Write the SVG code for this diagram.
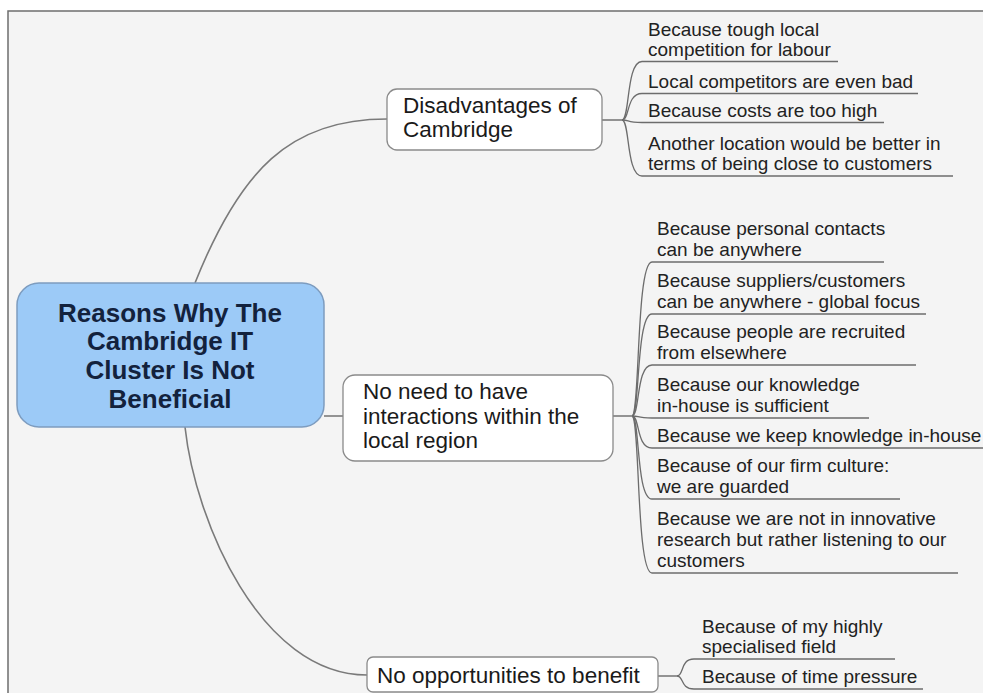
<svg xmlns="http://www.w3.org/2000/svg" width="983" height="693" viewBox="0 0 983 693">
<style>
.bg{fill:#f4f4f4;stroke:#6e6e6e;stroke-width:1.5}
.root{fill:#9ccaf7;stroke:#7d9cbf;stroke-width:1.5}
.rt{font-family:"Liberation Sans",Arial,sans-serif;font-weight:bold;font-size:26px;fill:#13223d;text-anchor:middle}
.nb{fill:#ffffff;stroke:#8a8a8a;stroke-width:1.3}
.nt{font-family:"Liberation Sans",Arial,sans-serif;font-size:22.5px;fill:#1a1a1a}
.ct{font-family:"Liberation Sans",Arial,sans-serif;font-size:19px;fill:#222222}
.ln{fill:none;stroke:#7a7a7a;stroke-width:1.6}
.ul{fill:none;stroke:#6c6c6c;stroke-width:1.3}
</style>
<rect x="0" y="0" width="983" height="693" fill="#ffffff"/>
<rect class="bg" x="8" y="11" width="990" height="700"/>
<g id="connectors">
<path class="ln" d="M195,283 C240,170 290,119 387,119"/>
<path class="ln" d="M324,416 H343"/>
<path class="ln" d="M185,427 C195,520 260,675 367,675"/>
<path class="ln" d="M602,120 H622"/>
<path class="ul" d="M622,120 C630,120 626,61.5 642,61.5 H838"/>
<path class="ul" d="M622,120 C630,120 626,93.5 642,93.5 H918"/>
<path class="ul" d="M622,120 C630,120 626,122.5 642,122.5 H884"/>
<path class="ul" d="M622,120 C630,120 626,176 642,176 H953"/>
<path class="ln" d="M613,416 H632"/>
<path class="ul" d="M632,416 C640,416 636,262 652,262 H884"/>
<path class="ul" d="M632,416 C640,416 636,314 652,314 H926"/>
<path class="ul" d="M632,416 C640,416 636,365 652,365 H916"/>
<path class="ul" d="M632,416 C640,416 636,418 652,418 H869"/>
<path class="ul" d="M632,416 C640,416 636,448 652,448 H990"/>
<path class="ul" d="M632,416 C640,416 636,499 652,499 H900"/>
<path class="ul" d="M632,416 C640,416 636,573 652,573 H958"/>
<path class="ln" d="M658,676 H677"/>
<path class="ul" d="M677,676 C684,676 680,659 694,659 H895"/>
<path class="ul" d="M677,676 C684,676 680,689 694,689 H923"/>
</g>
<g id="root">
<rect class="root" x="17" y="283" width="307" height="144" rx="22"/>
<text class="rt" x="170" y="322">Reasons Why The</text>
<text class="rt" x="170" y="350">Cambridge IT</text>
<text class="rt" x="170" y="379">Cluster Is Not</text>
<text class="rt" x="170" y="408">Beneficial</text>
</g>
<g id="disadvantages">
<rect class="nb" x="387" y="89" width="215" height="61" rx="10"/>
<text class="nt" x="403" y="113">Disadvantages of</text>
<text class="nt" x="403" y="137">Cambridge</text>
</g>
<g id="no-need">
<rect class="nb" x="343" y="375" width="270" height="86" rx="12"/>
<text class="nt" x="363" y="399">No need to have</text>
<text class="nt" x="363" y="424">interactions within the</text>
<text class="nt" x="363" y="448">local region</text>
</g>
<g id="no-opportunities">
<rect class="nb" x="367" y="657" width="291" height="35" rx="6"/>
<text class="nt" x="377" y="683">No opportunities to benefit</text>
</g>
<g id="d1"><text class="ct" x="648" y="35.5">Because tough local</text><text class="ct" x="648" y="56">competition for labour</text></g>
<g id="d2"><text class="ct" x="648" y="88">Local competitors are even bad</text></g>
<g id="d3"><text class="ct" x="648" y="117">Because costs are too high</text></g>
<g id="d4"><text class="ct" x="648" y="149.5">Another location would be better in</text><text class="ct" x="648" y="170">terms of being close to customers</text></g>
<g id="m1"><text class="ct" x="657" y="235">Because personal contacts</text><text class="ct" x="657" y="256">can be anywhere</text></g>
<g id="m2"><text class="ct" x="657" y="287">Because suppliers/customers</text><text class="ct" x="657" y="308">can be anywhere - global focus</text></g>
<g id="m3"><text class="ct" x="657" y="338">Because people are recruited</text><text class="ct" x="657" y="359">from elsewhere</text></g>
<g id="m4"><text class="ct" x="657" y="391">Because our knowledge</text><text class="ct" x="657" y="412">in-house is sufficient</text></g>
<g id="m5"><text class="ct" x="657" y="442">Because we keep knowledge in-house</text></g>
<g id="m6"><text class="ct" x="657" y="472">Because of our firm culture:</text><text class="ct" x="657" y="493">we are guarded</text></g>
<g id="m7"><text class="ct" x="657" y="525">Because we are not in innovative</text><text class="ct" x="657" y="546">research but rather listening to our</text><text class="ct" x="657" y="567">customers</text></g>
<g id="b1"><text class="ct" x="702" y="633">Because of my highly</text><text class="ct" x="702" y="653">specialised field</text></g>
<g id="b2"><text class="ct" x="702" y="683">Because of time pressure</text></g>
</svg>
